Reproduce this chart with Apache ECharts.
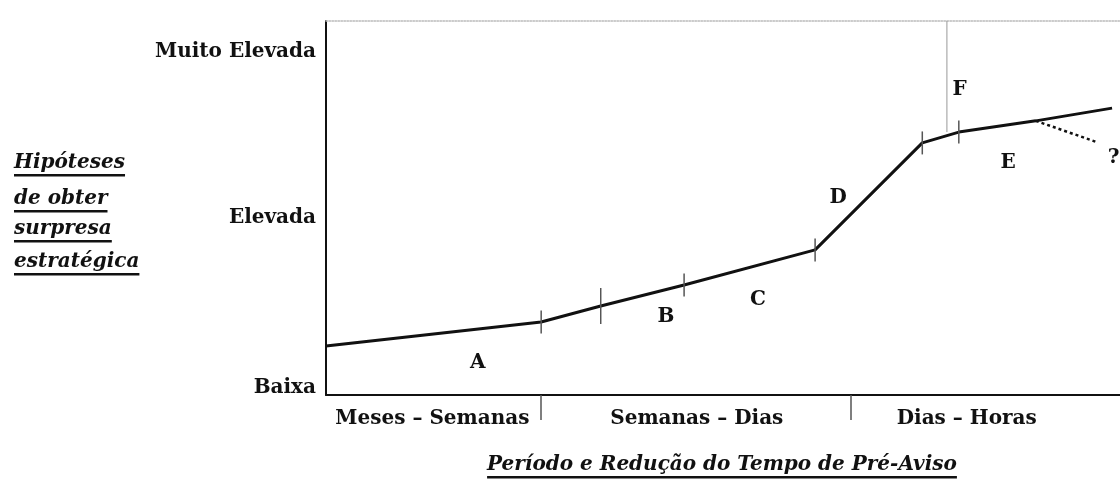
<!DOCTYPE html>
<html>
<head>
<meta charset="utf-8">
<script src="https://cdn.jsdelivr.net/npm/echarts@6/dist/echarts.min.js"></script>
<style>
  html, body { margin: 0; background: #fff; }
  #chart { width: 1120px; height: 479px; }
</style>
</head>
<body>
<div id="chart"></div>
<script>
// escalas: x = tempo de pré-aviso (0-100), y = hipóteses de surpresa (0-100)
var periodNames = ['Meses – Semanas', 'Semanas – Dias', 'Dias – Horas']
var periodCenters = [13.4, 46.7, 80.7]
var periodBounds = [27.1, 66.1]

var levelNames = ['Baixa', 'Elevada', 'Muito Elevada']
var levelValues = [1.9, 47.3, 91.7]

// curva principal
var curveX = [0, 27.1, 34.6, 45.1, 61.6, 75.1, 79.7, 89.4, 99.0]
var curveY = [13.1, 19.5, 23.8, 29.4, 38.8, 67.4, 70.3, 73.3, 76.7]
var phaseBreaks = [1, 2, 3, 4, 5, 6]

// ramo incerto (?)
var branchX = [89.4, 97.1]
var branchY = [73.3, 67.6]

// linha vertical F
var fLineX = [78.2, 78.2]
var fLineY = [100, 70.3]

var phaseLetters = ['A', 'B', 'C', 'D', 'E', 'F', '?']
var letterX = [19.1, 42.8, 54.4, 64.5, 85.9, 79.8, 99.2]
var letterY = [8.6, 20.9, 25.4, 52.7, 62.0, 81.6, 63.4]

var yTitleLines = ['Hipóteses', 'de obter', 'surpresa', 'estratégica']
var xTitle = 'Período e Redução do Tempo de Pré-Aviso'

var serif = '"DejaVu Serif", "Liberation Serif", serif'
var ink = '#111'

var measureCtx = document.createElement('canvas').getContext('2d')
function underlined(text, x, y, size, align) {
  var font = 'italic bold ' + size + 'px ' + serif
  measureCtx.font = font
  var w = measureCtx.measureText(text).width
  var x0 = align === 'center' ? x - w / 2 : x
  return [
    {
      type: 'text',
      x: x,
      y: y,
      style: { text: text, font: font, fill: ink, align: align, verticalAlign: 'middle' }
    },
    {
      type: 'rect',
      shape: { x: x0, y: y + 11, width: w, height: 2.5 },
      style: { fill: ink }
    }
  ]
}

var graphics = []
var yTitleTops = [163, 199, 229, 262]
yTitleLines.forEach(function (t, i) {
  graphics = graphics.concat(underlined(t, 14, yTitleTops[i], 20, 'left'))
})
graphics = graphics.concat(underlined(xTitle, 722, 465, 20, 'center'))

var chart = echarts.init(document.getElementById('chart'))
chart.setOption({
  backgroundColor: '#fff',
  animation: false,
  grid: {
    left: 326,
    right: 0,
    top: 21,
    bottom: 84
  },
  xAxis: [{
    type: 'value',
    min: 0,
    max: 100,
    splitLine: { show: false },
    axisLine: { lineStyle: { color: ink, width: 2 } },
    axisTick: {
      customValues: periodBounds,
      length: 25,
      lineStyle: { color: '#555', width: 1.5 }
    },
    axisLabel: {
      customValues: periodCenters,
      margin: 14,
      color: ink,
      fontFamily: serif,
      fontWeight: 'bold',
      fontSize: 20,
      formatter: function (v) {
        return periodNames[periodCenters.indexOf(v)]
      }
    }
  }, {
    type: 'value',
    position: 'top',
    min: 0,
    max: 100,
    splitLine: { show: false },
    axisTick: { show: false },
    axisLabel: { show: false },
    axisLine: { show: true, lineStyle: { color: '#bbb', width: 1.5, type: 'dotted' } }
  }],
  yAxis: {
    type: 'value',
    min: 0,
    max: 100,
    splitLine: { show: false },
    axisLine: { show: true, lineStyle: { color: ink, width: 2 } },
    axisTick: { show: false },
    axisLabel: {
      customValues: levelValues,
      margin: 10,
      color: ink,
      fontFamily: serif,
      fontWeight: 'bold',
      fontSize: 20,
      formatter: function (v) {
        return levelNames[levelValues.indexOf(v)]
      }
    }
  },
  graphic: graphics,
  series: [{
    type: 'line',
    data: fLineX.map(function (x, i) { return [x, fLineY[i]] }),
    symbol: 'none',
    lineStyle: { color: '#999', width: 1 },
    silent: true
  }, {
    type: 'line',
    data: curveX.map(function (x, i) {
      var tick = phaseBreaks.indexOf(i) >= 0
      return {
        value: [x, curveY[i]],
        symbol: tick ? 'rect' : 'none',
        symbolSize: [1.5, i === 2 ? 36 : 23]
      }
    }),
    showSymbol: true,
    itemStyle: { color: '#555' },
    lineStyle: { color: ink, width: 3 },
    z: 3
  }, {
    type: 'line',
    data: branchX.map(function (x, i) { return [x, branchY[i]] }),
    symbol: 'none',
    lineStyle: { color: ink, width: 2.5, type: [3, 3] }
  }, {
    type: 'scatter',
    symbolSize: 1,
    itemStyle: { color: 'rgba(0,0,0,0)', opacity: 1 },
    data: phaseLetters.map(function (n, i) {
      return { name: n, value: [letterX[i], letterY[i]] }
    }),
    label: {
      show: true,
      position: 'inside',
      formatter: '{b}',
      color: ink,
      opacity: 1,
      textBorderWidth: 0,
      fontFamily: serif,
      fontWeight: 'bold',
      fontSize: 20
    }
  }]
})
</script>
</body>
</html>
